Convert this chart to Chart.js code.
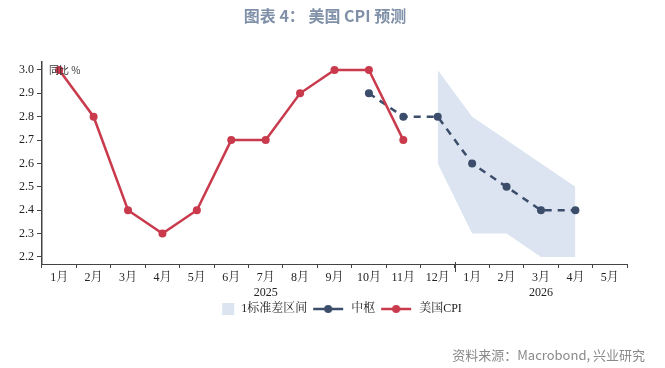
<!DOCTYPE html>
<html lang="zh">
<head>
<meta charset="UTF-8">
<title>美国 CPI 预测</title>
<script src="https://cdn.jsdelivr.net/npm/chart.js"></script>
<style>
  body { margin: 0; background: #fff; }
  #wrap { position: relative; width: 665px; height: 368px; }
  #title { position: absolute; left: 0; width: 650px; top: 3px; text-align: center;
    font: bold 16px 'Noto Sans CJK SC', sans-serif; color: #7f90a8; }
  #unit { position: absolute; left: 49px; top: 62px; font: 10px 'Noto Sans CJK SC', sans-serif; color: #333; }
  #source { position: absolute; right: 20px; top: 345px; font: 13px 'Noto Sans CJK SC', sans-serif; color: #8a8a8a; }
  canvas { position: absolute; left: 0; top: 0; }
</style>
</head>
<body>
<div id="wrap">
  <canvas id="myChart" width="665" height="368"></canvas>
  <div id="title">图表 4：&nbsp;美国 CPI 预测</div>
  <div id="unit">同比 %</div>
  <div id="source">资料来源：Macrobond, 兴业研究</div>
</div>
<script>
// 数据
const months = ['1月','2月','3月','4月','5月','6月','7月','8月','9月','10月','11月','12月','1月','2月','3月','4月','5月'];
const yearLabels = {6: '2025', 14: '2026'};
const cpi    = [3.0, 2.8, 2.4, 2.3, 2.4, 2.7, 2.7, 2.9, 3.0, 3.0, 2.7, null, null, null, null, null, null];
const center = [null, null, null, null, null, null, null, null, null, 2.9, 2.8, 2.8, 2.6, 2.5, 2.4, 2.4, null];
const bandUpper = [null, null, null, null, null, null, null, null, null, null, null, 3.0, 2.8, 2.7, 2.6, 2.5, null];
const bandLower = [null, null, null, null, null, null, null, null, null, null, null, 2.6, 2.3, 2.3, 2.2, 2.2, null];
const yTicks = [2.2, 2.3, 2.4, 2.5, 2.6, 2.7, 2.8, 2.9, 3.0];

const RED = '#c83a4c', NAVY = '#3c4d6b', BAND = '#dbe4f0';
const serif = "'Liberation Serif', 'Noto Serif CJK SC', 'Noto Sans CJK SC', serif";

// 图例用小图标 (都画成 34px 宽，方块靠右)
function lineIcon(color) {
  const c = document.createElement('canvas');
  c.width = 34; c.height = 10;
  const g = c.getContext('2d');
  g.strokeStyle = color; g.lineWidth = 2.5;
  g.beginPath(); g.moveTo(2, 5); g.lineTo(32, 5); g.stroke();
  g.fillStyle = color; g.beginPath(); g.arc(17, 5, 4, 0, Math.PI * 2); g.fill();
  return c;
}
function boxIcon(color) {
  const c = document.createElement('canvas');
  c.width = 34; c.height = 12;
  const g = c.getContext('2d');
  g.fillStyle = color; g.fillRect(21, 0, 12, 12);
  return c;
}

// 年份分隔的长刻度 + 图例稍微右移
const yearTick = {
  id: 'yearTick',
  afterLayout(chart) {
    chart.legend.left += 18;
    chart.legend.right += 18;
  },
  afterDraw(chart) {
    const x = chart.scales.x, g = chart.ctx;
    const px = (x.getPixelForValue(11) + x.getPixelForValue(12)) / 2;
    g.save();
    g.strokeStyle = '#444'; g.lineWidth = 1;
    g.beginPath(); g.moveTo(Math.round(px) + 0.5, x.top - 2); g.lineTo(Math.round(px) + 0.5, x.top + 8); g.stroke();
    g.restore();
  }
};

const ctx = document.getElementById('myChart').getContext('2d');
const myChart = new Chart(ctx, {
  type: 'line',
  data: {
    labels: months,
    datasets: [
      { label: '1标准差区间', data: bandUpper, borderWidth: 0, pointRadius: 0, backgroundColor: BAND,
        fill: '+1', order: 3, legendIcon: boxIcon(BAND) },
      { label: 'lower', data: bandLower, borderWidth: 0, pointRadius: 0, backgroundColor: BAND,
        fill: false, order: 3 },
      { label: '中枢', data: center, borderColor: NAVY, backgroundColor: NAVY, borderWidth: 2.5,
        borderDash: [7, 6], pointRadius: 4, pointBackgroundColor: NAVY, pointBorderWidth: 0,
        order: 2, legendIcon: lineIcon(NAVY) },
      { label: '美国CPI', data: cpi, borderColor: RED, backgroundColor: RED, borderWidth: 2.5,
        pointRadius: 4, pointBackgroundColor: RED, pointBorderWidth: 0,
        order: 1, legendIcon: lineIcon(RED) }
    ]
  },
  options: {
    responsive: false,
    animation: false,
    spanGaps: false,
    layout: { padding: { top: 62, right: 38, bottom: 43, left: 0 } },
    plugins: {
      tooltip: { enabled: false },
      legend: {
        position: 'bottom',
        labels: {
          usePointStyle: true,
          pointStyleWidth: 34,
          color: '#222',
          font: { family: serif, size: 12 },
          padding: 4,
          generateLabels(chart) {
            return chart.data.datasets
              .map((ds, i) => ({ ds, i }))
              .filter(o => o.ds.legendIcon)
              .map(o => ({ text: o.ds.label, pointStyle: o.ds.legendIcon, datasetIndex: o.i,
                           fillStyle: 'transparent', strokeStyle: 'transparent', lineWidth: 0, fontColor: '#222' }));
          }
        }
      }
    },
    scales: {
      x: {
        offset: true,
        grid: { offset: true, drawOnChartArea: false, tickLength: 4, color: '#444' },
        border: { color: '#444', width: 1 },
        ticks: {
          color: '#222', font: { family: serif, size: 12 }, padding: 3, maxRotation: 0, autoSkip: false,
          callback(v, i) { return yearLabels[i] ? [months[i], yearLabels[i]] : months[i]; }
        },
        afterFit(s) { s.height = 35; }
      },
      y: {
        min: 2.17, max: 3.034,
        afterBuildTicks(s) { s.ticks = yTicks.map(v => ({ value: v })); },
        grid: { drawOnChartArea: false, tickLength: 5, color: '#444' },
        border: { color: '#444', width: 1.5 },
        ticks: { color: '#222', font: { family: serif, size: 12 }, padding: 3,
                 callback: v => v.toFixed(1) },
        afterFit(s) { s.width = 42; }
      }
    }
  },
  plugins: [yearTick]
});
</script>
</body>
</html>
